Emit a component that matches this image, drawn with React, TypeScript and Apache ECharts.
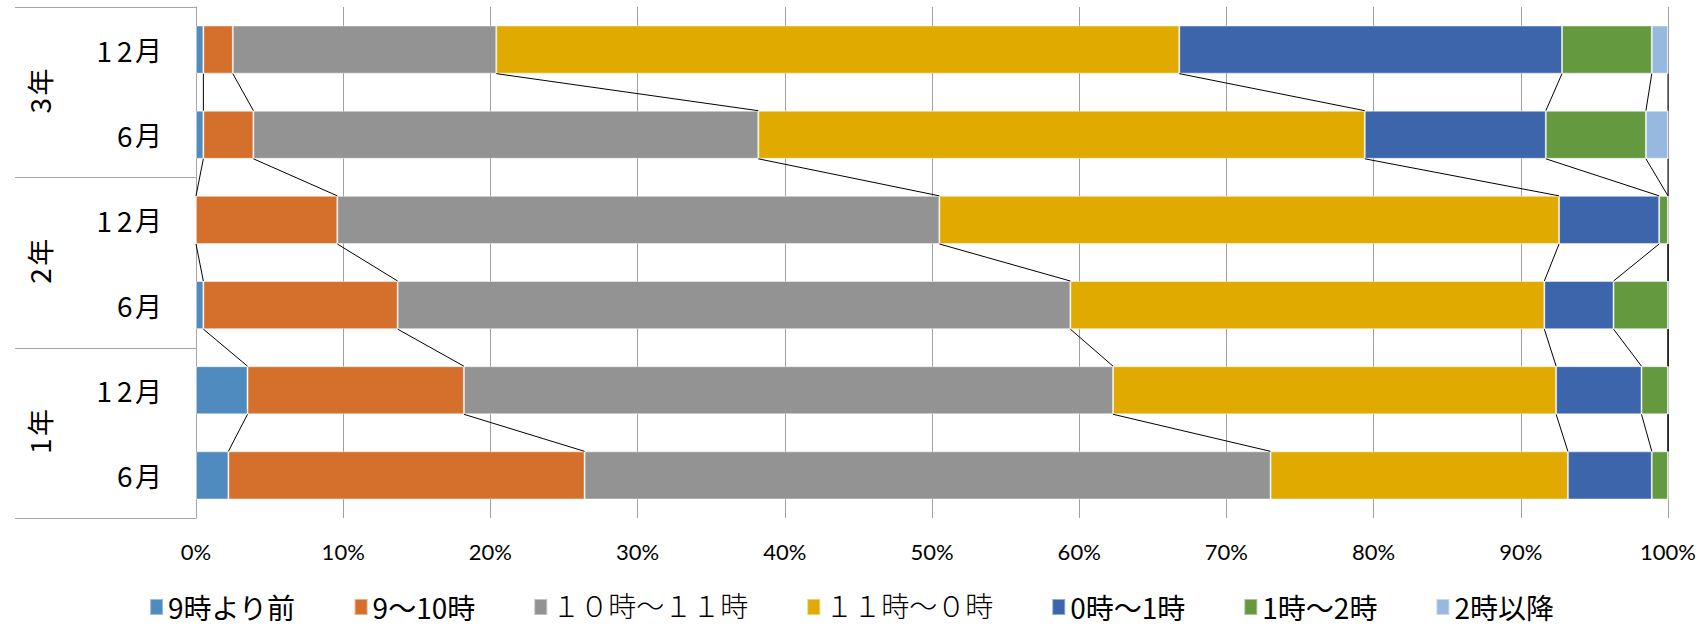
import React, { useEffect, useRef } from "react";
import * as echarts from "echarts";

// categories from bottom to top
const categories = ["6月", "12月", "6月", "12月", "6月", "12月"];
const years = ["1年", "2年", "3年"];
const xTicks = [0, 10, 20, 30, 40, 50, 60, 70, 80, 90, 100];

const seriesNames = ["9時より前", "9～10時", "１０時～１１時", "１１時～０時", "0時～1時", "1時～2時", "2時以降"];
const colors = ["#4F8BBE", "#D4702B", "#939393", "#E1AA00", "#3D65AC", "#64993F", "#98B9DF"];

const before9 = [2.2, 3.5, 0.5, 0, 0.5, 0.5];
const h9to10 = [24.2, 14.7, 13.2, 9.6, 3.4, 2.0];
const h10to11 = [46.6, 44.1, 45.7, 40.9, 34.3, 17.9];
const h11to0 = [20.2, 30.1, 32.2, 42.1, 41.2, 46.4];
const h0to1 = [5.7, 5.8, 4.7, 6.8, 12.3, 26.0];
const h1to2 = [1.1, 1.8, 3.7, 0.6, 6.8, 6.1];
const after2 = [0, 0, 0, 0, 1.5, 1.1];

const allSeries = [before9, h9to10, h10to11, h11to0, h0to1, h1to2, after2];

const serifNames = ["１０時～１１時", "１１時～０時"];

const richLabel = (v: string) =>
  v
    .split("")
    .map((ch) => (/[0-9]/.test(ch) ? `{d|${ch}}` : `{m|${ch}}`))
    .join("");

const labelRich = {
  d: { fontSize: 28, width: 20.5, align: "center", fontFamily: "Noto Sans CJK JP", color: "#000" },
  m: { fontSize: 27, fontFamily: "Noto Sans CJK JP", color: "#000" },
};

export default function App() {
  const ref = useRef<HTMLDivElement>(null);
  useEffect(() => {
    document.body.style.margin = "0";
    if (!ref.current) return;
    const chart = echarts.init(ref.current, undefined, { renderer: "svg" });

    const GRID_TOP = 7;
    const GRID_BOTTOM = 110;
    const plotH = 628 - GRID_TOP - GRID_BOTTOM;
    const groupH = plotH / 3;

    // cumulative boundaries
    const cum: number[][] = [];
    allSeries.forEach((s, j) => {
      cum.push(s.map((v, i) => (j === 0 ? 0 : cum[j - 1][i]) + v));
    });
    const lineData: number[][] = [];
    cum.forEach((c) => {
      for (let k = 0; k < categories.length - 1; k++) {
        lineData.push([c[k + 1], c[k], k]);
      }
    });

    const BAR_RATIO = 0.565;

    const barSeries = allSeries.map((s, j) => ({
      type: "bar",
      name: seriesNames[j],
      stack: "total",
      barWidth: "56.5%",
      data: s,
      itemStyle: { color: colors[j], borderColor: "rgba(255,255,255,0.45)", borderWidth: 1 },
      emphasis: { disabled: true },
    }));

    const graphics: any[] = [];
    for (let g = 0; g <= 3; g++) {
      const y = Math.round(GRID_TOP + g * groupH) + 0.5;
      graphics.push({
        type: "line",
        shape: { x1: 15, y1: y, x2: 196, y2: y },
        style: { stroke: "#A6A6A6", lineWidth: 1 },
        silent: true,
      });
    }
    years.forEach((y, i) => {
      graphics.push({
        type: "text",
        x: 39,
        y: GRID_TOP + (2 - i) * groupH + groupH / 2,
        rotation: Math.PI / 2,
        style: {
          text: richLabel(y),
          rich: labelRich,
          fill: "#000",
          textAlign: "center",
          textVerticalAlign: "middle",
        },
        silent: true,
      });
    });

    chart.setOption({
      animation: false,
      grid: { left: 196, right: 35, top: GRID_TOP, bottom: GRID_BOTTOM, containLabel: false },
      legend: {
        data: seriesNames,
        left: "center",
        top: 593,
        padding: 0,
        itemWidth: 13,
        itemHeight: 16,
        itemGap: 58,
        icon: "rect",
        selectedMode: false,
        formatter: (name: string) => (serifNames.includes(name) ? `{s|${name}}` : `{n|${name}}`),
        textStyle: {
          color: "#000",
          fontSize: 28,
          lineHeight: 28,
          rich: {
            n: { fontSize: 28, lineHeight: 28, fontFamily: "Noto Sans CJK JP", color: "#000" },
            s: {
              fontSize: 28,
              lineHeight: 28,
              fontFamily: "Liberation Serif, Noto Sans CJK JP",
              color: "#000",
              fontWeight: 300,
            },
          },
        },
      },
      xAxis: {
        type: "value",
        min: xTicks[0],
        max: xTicks[xTicks.length - 1],
        interval: 10,
        axisLine: { show: false },
        axisTick: { show: false },
        splitLine: { show: true, lineStyle: { color: "#A0A0A0", width: 1 } },
        axisLabel: {
          formatter: "{value}%",
          fontSize: 22,
          fontFamily: "Lato",
          color: "#000",
          margin: 22,
        },
      },
      yAxis: {
        type: "category",
        data: categories,
        axisLine: { show: true, lineStyle: { color: "#A6A6A6", width: 1 } },
        axisTick: { show: false },
        axisLabel: {
          formatter: (v: string) => richLabel(v),
          rich: labelRich,
          color: "#000",
          margin: 34,
        },
      },
      graphic: graphics,
      series: [
        ...barSeries,
        {
          type: "custom",
          name: "seriesLines",
          silent: true,
          encode: { x: [0, 1], y: 2 },
          data: lineData,
          z: 3,
          renderItem: (params: any, api: any) => {
            const k = api.value(2);
            const p1 = api.coord([api.value(0), k + 1]);
            const p2 = api.coord([api.value(1), k]);
            const half = (api.size([0, 1])[1] * BAR_RATIO) / 2;
            return {
              type: "line",
              shape: { x1: p1[0], y1: p1[1] + half, x2: p2[0], y2: p2[1] - half },
              style: { stroke: "#000", lineWidth: 1 },
            };
          },
        },
      ],
    });
    return () => chart.dispose();
  }, []);
  return <div ref={ref} style={{ width: 1703, height: 628 }} />;
}
